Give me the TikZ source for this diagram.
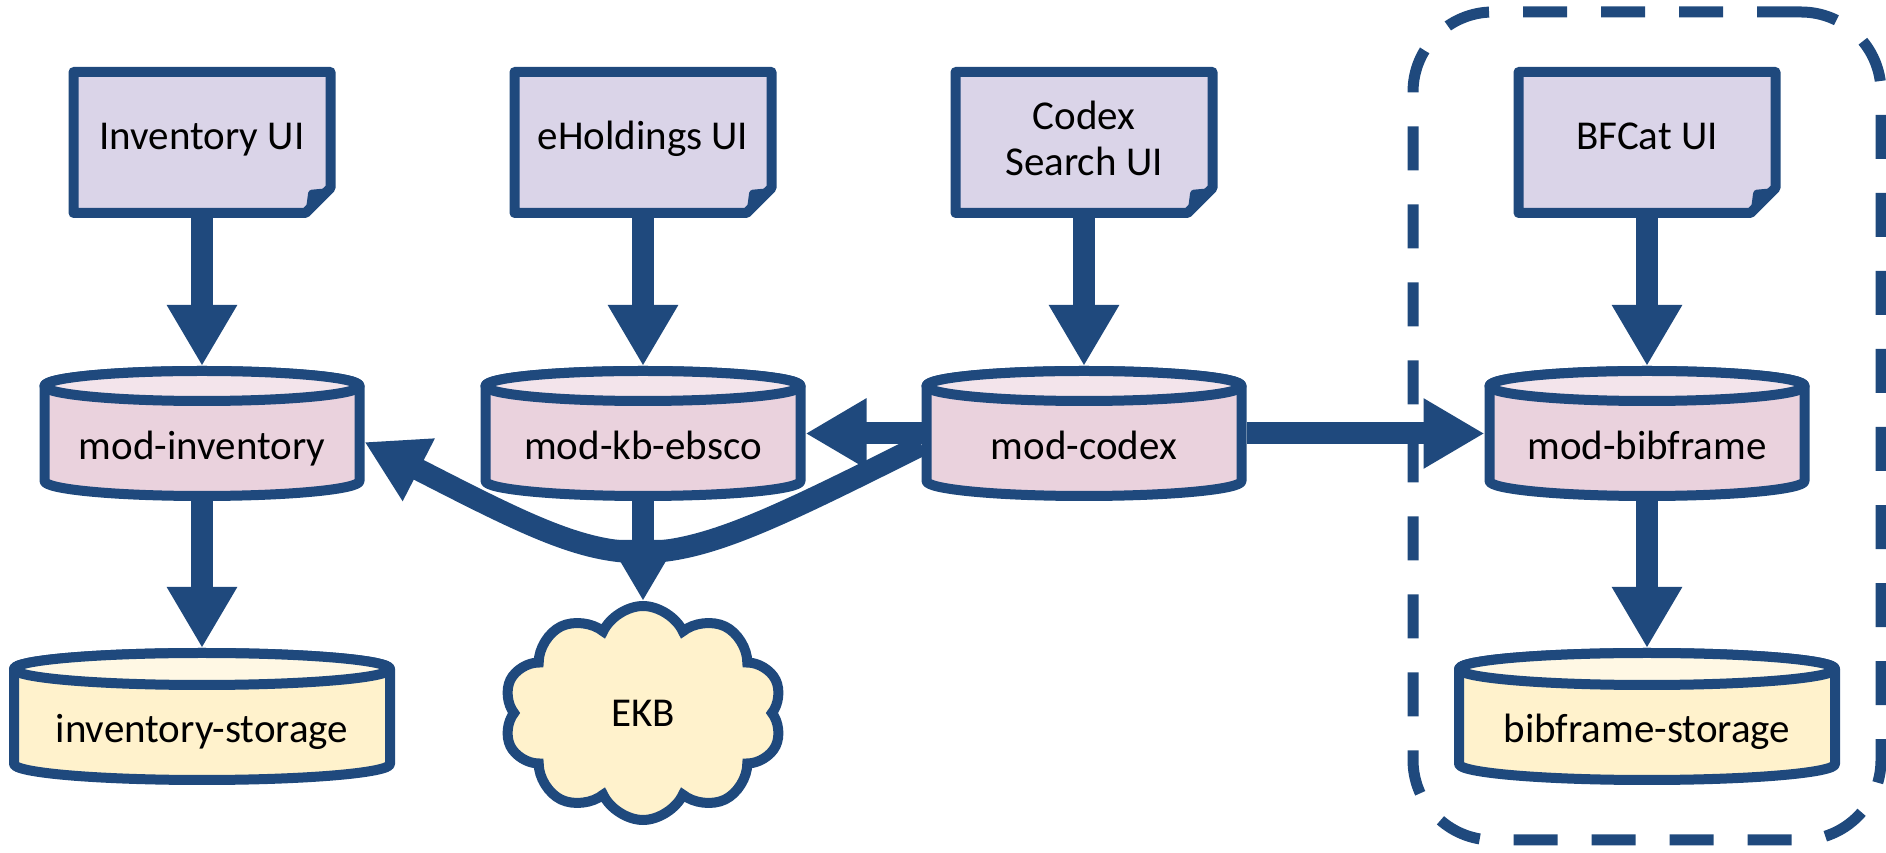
\documentclass[tikz,border=0pt]{standalone}
\usepackage{fontspec}
\setmainfont{Carlito}
\usetikzlibrary{positioning, shapes.symbols, arrows.meta, fit, backgrounds}

\definecolor{navy}{RGB}{31,73,125}
\definecolor{uifill}{RGB}{218,212,232}
\definecolor{modbody}{RGB}{234,210,221}
\definecolor{modtop}{RGB}{243,228,235}
\definecolor{storebody}{RGB}{255,242,204}
\definecolor{storetop}{RGB}{255,248,228}

\begin{document}
\begin{tikzpicture}[%
  x = 1pt, y = 1pt,
  font = \fontsize{41}{46}\selectfont,
  ui/.style    = {rectangle, inner sep = 0pt, outer sep = 0pt,
                  minimum width = 267pt, minimum height = 151pt,
                  text height = 26pt, text depth = 11pt},
  mod/.style   = {rectangle, inner sep = 0pt, outer sep = 0pt,
                  minimum width = 325pt, minimum height = 135pt,
                  text height = 60pt, text depth = 8pt},
  store/.style = {mod, minimum width = 386pt, minimum height = 137pt},
  kb/.style    = {cloud, cloud puffs = 10, cloud puff arc = 130, aspect = 1.33,
                  draw = navy, line width = 10pt, fill = storebody,
                  inner sep = 0pt, minimum width = 279pt, minimum height = 214pt},
  shell/.style = {draw = navy, line width = 10pt, line join = round},
  flow/.style  = {draw = navy, line width = 22pt,
                  -{Triangle[length = 61pt, width = 66pt]}},
  group/.style = {draw = navy, line width = 11pt,
                  dash pattern = on 44pt off 34pt, rounded corners = 80pt,
                  inner xsep = 41pt, inner ysep = 55pt}
]
  \useasboundingbox (0,0) rectangle (1886,853);

  % user interfaces
  \node[ui] (invui) at (202,710.5) {Inventory UI};
  \node[ui, right = 174pt of invui] (ehui) {eHoldings UI};
  \node[ui, right = 174pt of ehui] (codexui)
       {\begin{tabular}{@{}c@{}}Codex\\Search UI\end{tabular}};
  \node[ui, right = 296pt of codexui] (bfui) {BFCat UI};

  % modules
  \node[mod, below = 148pt of invui] (invmod) {mod-inventory};
  \node[mod, below = 148pt of ehui] (kbmod) {mod-kb-ebsco};
  \node[mod, below = 148pt of codexui] (codexmod) {mod-codex};
  \node[mod, below = 148pt of bfui] (bibmod) {mod-bibframe};

  % storage
  \node[store, below = 147pt of invmod] (invstore) {inventory-storage};
  \node[kb, below = 100pt of kbmod] (ekb) {EKB};
  \node[store, below = 147pt of bibmod] (bibstore) {bibframe-storage};

  % shapes behind the texts
  \begin{scope}[on background layer]
    \foreach \doc in {invui, ehui, codexui, bfui} {
      \filldraw[shell, fill = uifill] ([shift={(5,5)}]\doc.south west)
          -- ([shift={(5,-5)}]\doc.north west)
          -- ([shift={(-5,-5)}]\doc.north east)
          -- ([shift={(-5,30)}]\doc.south east)
          -- ([shift={(-30,5)}]\doc.south east) -- cycle;
      \fill[navy, rounded corners = 3pt] ([shift={(-5,30)}]\doc.south east)
          -- ([shift={(-27,28)}]\doc.south east)
          -- ([shift={(-30,5)}]\doc.south east) -- cycle;
    }
    \foreach \db/\rx/\ry/\body/\top in {invmod/157.5/15/modbody/modtop,
                                        kbmod/157.5/15/modbody/modtop,
                                        codexmod/157.5/15/modbody/modtop,
                                        bibmod/157.5/15/modbody/modtop,
                                        invstore/188/16/storebody/storetop,
                                        bibstore/188/16/storebody/storetop} {
      \filldraw[shell, fill = \body] ([shift={(5,{-5-\ry})}]\db.north west)
          -- ([shift={(5,{5+\ry})}]\db.south west)
          arc[start angle = 180, end angle = 360, x radius = \rx, y radius = \ry]
          -- ([shift={(-5,{-5-\ry})}]\db.north east)
          arc[start angle = 0, end angle = 180, x radius = \rx, y radius = \ry]
          -- cycle;
      \filldraw[shell, fill = \top] ([shift={(0,{-5-\ry})}]\db.north)
          ellipse[x radius = \rx, y radius = \ry];
    }
  \end{scope}

  % bibframe box
  \node[group, fit = (bfui) (bibstore)] (bfbox) {};

  % data flows
  \foreach \from/\to in {invui/invmod, ehui/kbmod, codexui/codexmod,
                         bfui/bibmod, invmod/invstore, kbmod/ekb,
                         bibmod/bibstore, codexmod/kbmod, codexmod/bibmod}
    \draw[flow] (\from) -- (\to);

  \draw[flow] ([yshift=-11.5pt]codexmod.west)
                .. controls +(-278,-139) and +(277,-142) ..
              ([yshift=-8.5pt]invmod.east);

\end{tikzpicture}
\end{document}
